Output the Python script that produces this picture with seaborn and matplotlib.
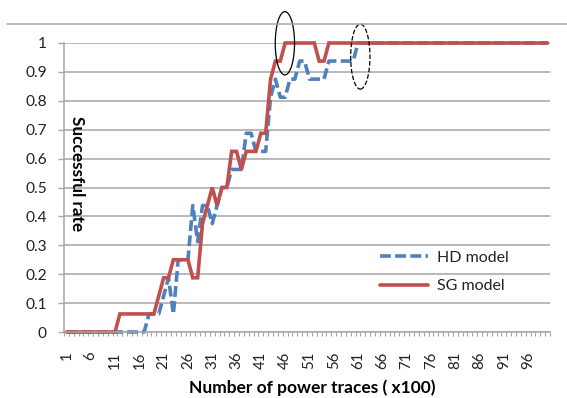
import matplotlib
matplotlib.use("Agg")
import matplotlib.pyplot as plt
import numpy as np
import pandas as pd
import seaborn as sns
from matplotlib.patches import Ellipse
from matplotlib.lines import Line2D

# ---------------- data ----------------
traces = list(range(1, 101))
series_names = ["HD model", "SG model"]
hd_rate = [
    0, 0, 0, 0, 0, 0, 0, 0, 0, 0,
    0, 0, 0, 0, 0, 0, 0, 0.0625, 0.0625, 0.0625,
    0.125, 0.1875, 0.0625, 0.25, 0.25, 0.25, 0.4375, 0.3125, 0.4375, 0.4375,
    0.375, 0.4375, 0.5, 0.5, 0.5625, 0.5625, 0.5625, 0.6875, 0.6875, 0.625,
    0.625, 0.625, 0.8125, 0.875, 0.8125, 0.8125, 0.875, 0.875, 0.9375, 0.9375,
    0.875, 0.875, 0.875, 0.875, 0.9375, 0.9375, 0.9375, 0.9375, 0.9375, 0.9375,
    1, 1, 1, 1, 1, 1, 1, 1, 1, 1,
    1, 1, 1, 1, 1, 1, 1, 1, 1, 1,
    1, 1, 1, 1, 1, 1, 1, 1, 1, 1,
    1, 1, 1, 1, 1, 1, 1, 1, 1, 1,
]
sg_rate = [
    0, 0, 0, 0, 0, 0, 0, 0, 0, 0,
    0, 0.0625, 0.0625, 0.0625, 0.0625, 0.0625, 0.0625, 0.0625, 0.0625, 0.125,
    0.1875, 0.1875, 0.25, 0.25, 0.25, 0.25, 0.1875, 0.1875, 0.375, 0.4375,
    0.5, 0.4375, 0.5, 0.5, 0.625, 0.625, 0.5625, 0.625, 0.625, 0.625,
    0.6875, 0.6875, 0.875, 0.9375, 0.9375, 1, 1, 1, 1, 1,
    1, 1, 0.9375, 0.9375, 1, 1, 1, 1, 1, 1,
    1, 1, 1, 1, 1, 1, 1, 1, 1, 1,
    1, 1, 1, 1, 1, 1, 1, 1, 1, 1,
    1, 1, 1, 1, 1, 1, 1, 1, 1, 1,
    1, 1, 1, 1, 1, 1, 1, 1, 1, 1,
]
xtick_values = [1, 6, 11, 16, 21, 26, 31, 36, 41, 46, 51, 56, 61, 66, 71, 76, 81, 86, 91, 96]
xtick_labels = ["1", "6", "11", "16", "21", "26", "31", "36", "41", "46",
                "51", "56", "61", "66", "71", "76", "81", "86", "91", "96"]
ytick_values = [0, 0.1, 0.2, 0.3, 0.4, 0.5, 0.6, 0.7, 0.8, 0.9, 1.0]
ytick_labels = ["0", "0.1", "0.2", "0.3", "0.4", "0.5", "0.6", "0.7", "0.8", "0.9", "1"]
x_title = "Number of power traces ( x100)"
y_title = "Successful rate"
# annotation ellipses: (x centre, y centre, width, height, linestyle)
marks = [(45.95, 0.999, 3.97, 0.219, "-"), (61.47, 0.953, 3.97, 0.225, "--")]

colors = {"HD model": "#4F81BD", "SG model": "#C0504D"}
dash_map = {"HD model": (3, 1.2), "SG model": ""}
grid_col = "#A6A6A6"

# ---------------- plot ----------------
sns.set_theme(style="white")
plt.rcParams["font.family"] = ["Lato", "DejaVu Sans"]

W, H = 567, 398
fig = plt.figure(figsize=(W / 100, H / 100), dpi=100)
ax = fig.add_axes([64 / W, 1 - 332 / H, 486 / W, 289 / H])

df = pd.DataFrame({
    "trace": traces + traces,
    "rate": hd_rate + sg_rate,
    "model": [series_names[0]] * len(traces) + [series_names[1]] * len(traces),
})
LW = 2.6
sns.lineplot(data=df, x="trace", y="rate", hue="model", style="model",
             hue_order=series_names, style_order=series_names,
             palette=colors, dashes=dash_map, linewidth=LW,
             estimator=None, ax=ax, legend=False)
for ln in ax.get_lines():
    ln.set_clip_on(False)
    ln.set_solid_joinstyle("miter")
    ln.set_dash_capstyle("butt")

ax.set_xlim(0.5, 100.5)
ax.set_ylim(0, 1)
ax.set_xlabel("")
ax.set_ylabel("")

# grid
ax.set_yticks(ytick_values)
ax.set_yticklabels(ytick_labels)
ax.yaxis.grid(True, color=grid_col, linewidth=1.1)
ax.xaxis.grid(False)
ax.set_axisbelow(True)

ax.set_xticks(xtick_values)
ax.set_xticklabels(xtick_labels, rotation=90)
ax.set_xticks(np.arange(0.5, 101, 1.0), minor=True)
ax.tick_params(axis="x", which="major", length=0, pad=14, labelsize=10.8, colors="#222222")
ax.tick_params(axis="x", which="minor", length=3.2, width=0.8, color=grid_col, direction="out", bottom=True)
ax.tick_params(axis="y", which="major", length=4.3, width=1.0, color=grid_col, direction="out",
               pad=8, labelsize=11.2, left=True, labelcolor="#222222")

for s in ["top", "right"]:
    ax.spines[s].set_visible(False)
for s in ["left", "bottom"]:
    ax.spines[s].set_visible(True)
    ax.spines[s].set_color(grid_col)
    ax.spines[s].set_linewidth(1.1)

# y title inside plot
ax.text(76.5 / W, 1 - 174 / H, y_title, transform=fig.transFigure, rotation=-90,
        ha="center", va="center", fontsize=12.3, fontweight="bold", color="black")
# x title
fig.text(312 / W, 1 - 393 / H, x_title, ha="center", va="baseline",
         fontsize=12.5, fontweight="bold", color="black")

# ellipses
for cx, cy, w, h, ls in marks:
    e = Ellipse((cx, cy), w, h, fill=False, edgecolor="black", linewidth=0.9,
                linestyle=ls, clip_on=False, zorder=5)
    ax.add_patch(e)

# legend
handles = [Line2D([], [], color=colors[n], linewidth=LW) for n in series_names]
handles[0].set_dashes(dash_map["HD model"])
handles[0].set_dash_capstyle("butt")
leg = ax.legend(handles, series_names, loc="center left", bbox_to_anchor=(0.65, 0.208),
                frameon=False, fontsize=11.5, handlelength=3.0, handletextpad=0.6,
                labelspacing=0.9, borderpad=0, borderaxespad=0)
for t in leg.get_texts():
    t.set_color("#222222")

# top border line of the figure
fig.add_artist(Line2D([7 / W, 1], [1 - 24 / H, 1 - 24 / H], transform=fig.transFigure,
                      color=grid_col, linewidth=1.1))

fig.savefig("out.png", dpi=100, facecolor="white")
